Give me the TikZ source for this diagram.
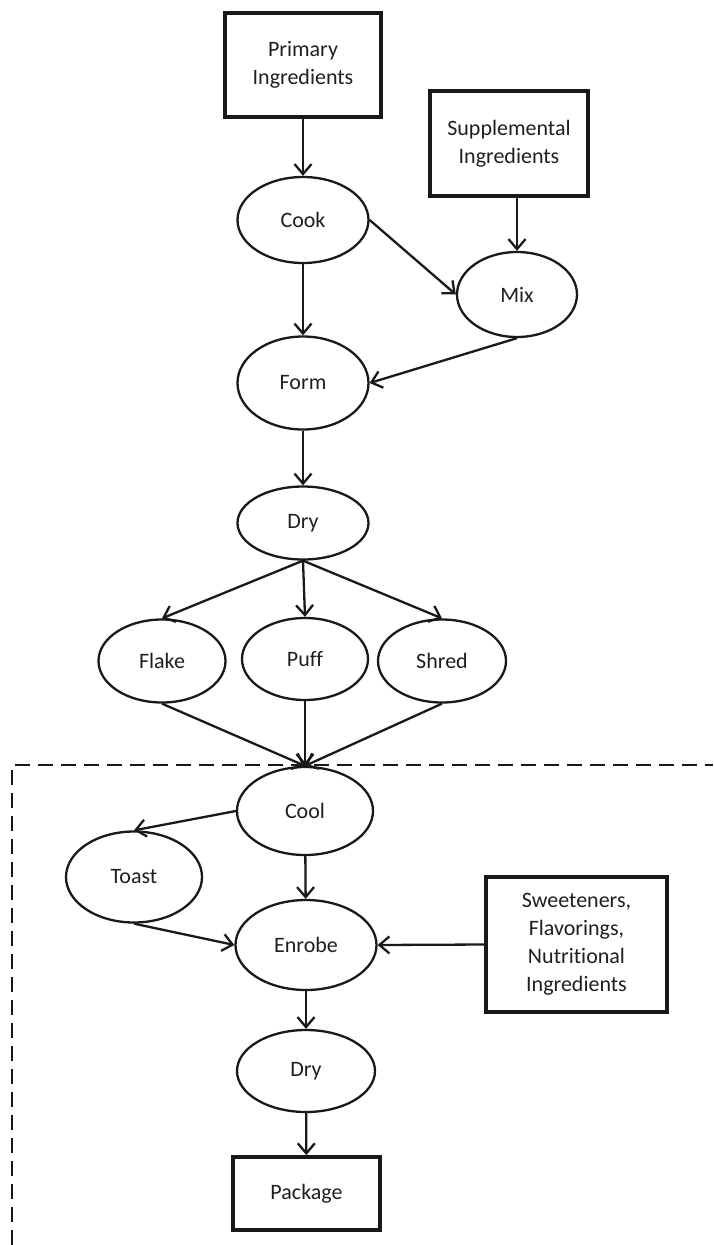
\documentclass[tikz,border=0pt]{standalone}
\usepackage{fontspec}
\setmainfont{Carlito}[Ligatures=NoCommon]
\usetikzlibrary{shapes.geometric,arrows.meta}
\begin{document}
\begin{tikzpicture}[x=1pt,y=-1pt,
  every node/.style={font=\fontsize{22}{28}\selectfont, text=black!88, align=center, inner sep=0pt},
  stagebox/.style={draw=black!90, line width=3.8pt, rectangle},
  process/.style={draw=black!90, line width=2.3pt, ellipse},
  flow/.style={draw=black!90, line width=2.3pt, -{Straight Barb[length=10pt,width=17pt,line width=2.3pt]}},
  zone/.style={draw=black!90, line width=2.2pt, dash pattern=on 15pt off 8pt}]
\useasboundingbox (0,0) rectangle (713,1245);

% ingredient inputs
\node[stagebox, minimum width=156pt, minimum height=104pt] (prim) at (303,65) {Primary\\Ingredients};
\node[stagebox, minimum width=158pt, minimum height=105pt] (supp) at (509,143.5) {Supplemental\\Ingredients};

% processing steps
\node[process, minimum width=131pt, minimum height=86pt] (cook) at (303,220) {Cook};
\node[process, minimum width=120pt, minimum height=85pt] (mix) at (517,294.5) {Mix};
\node[process, minimum width=131pt, minimum height=93pt] (form) at (303,383) {Form};
\node[process, minimum width=131pt, minimum height=73pt] (dry) at (303,523) {Dry};
\node[process, minimum width=127pt, minimum height=83pt] (flake) at (162,661) {Flake};
\node[process, minimum width=126pt, minimum height=82pt] (puff) at (305,659) {Puff};
\node[process, minimum width=128pt, minimum height=83pt] (shred) at (442,661) {Shred};

% finishing steps
\node[process, minimum width=136pt, minimum height=88pt] (cool) at (305,811) {Cool};
\node[process, minimum width=136pt, minimum height=91pt] (toast) at (134,877) {Toast};
\node[process, minimum width=141pt, minimum height=90pt] (enrobe) at (306,945) {Enrobe};
\node[stagebox, minimum width=181pt, minimum height=135pt] (sweet) at (576.5,944.5) {Sweeteners,\\Flavorings,\\Nutritional\\Ingredients};
\node[process, minimum width=138pt, minimum height=82pt] (dry2) at (306,1071) {Dry};
\node[stagebox, minimum width=147pt, minimum height=73pt] (pack) at (306.5,1193.5) {Package};

% finishing zone boundary
\coordinate (zb) at (12,1245);
\coordinate (zc) at (12,765);
\coordinate (zr) at (713,765);
\draw[zone] (zb) -- (zc) -- (zr);

% connectors
\draw[flow] (prim) -- (cook);
\draw[flow] (supp.south -| mix.north) -- (mix.north);
\draw[flow] (cook.east) -- (mix.west);
\draw[flow] (cook) -- (form);
\draw[flow] (mix.south) -- (form.east);
\draw[flow] (form) -- (dry);
\draw[flow] (dry.south) -- (flake.north);
\draw[flow] (dry.south) -- (puff.north);
\draw[flow] (dry.south) -- (shred.north);
\draw[flow] (flake.south) -- (cool.north);
\draw[flow] (puff.south) -- (cool.north);
\draw[flow] (shred.south) -- (cool.north);
\draw[flow] (cool.west) -- (toast.north);
\draw[flow] (cool) -- (enrobe);
\draw[flow] (toast.south) -- (enrobe.west);
\draw[flow] (sweet.west) -- (enrobe.east);
\draw[flow] (enrobe) -- (dry2);
\draw[flow] (dry2) -- (pack);
\end{tikzpicture}
\end{document}
